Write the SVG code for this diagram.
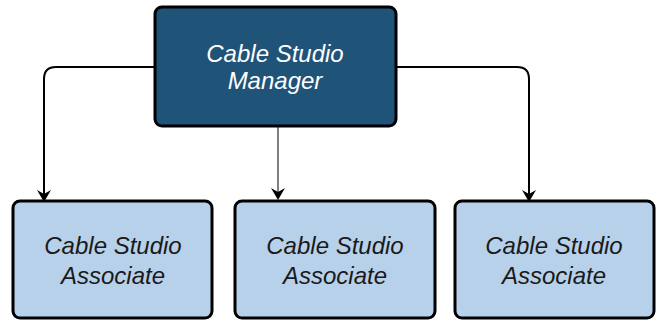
<svg xmlns="http://www.w3.org/2000/svg" width="658" height="320" viewBox="0 0 658 320">
<defs>
<style>
.mgr{fill:#1f5378;stroke:#000;stroke-width:3}
.asc{fill:#b8d1ea;stroke:#000;stroke-width:3}
.t{font-family:"Liberation Sans",Arial,sans-serif;font-size:24px;font-style:italic;text-anchor:middle}
.tw{fill:#fff}
.tk{fill:#1a1a1a}
.c{fill:none;stroke:#000;stroke-width:2}
.ah{fill:#000}
</style>
</defs>
<rect width="658" height="320" fill="#fff"/>
<g id="connectors">
<path class="c" d="M155,67 H56 Q44,67 44,79 V196"/>
<path class="c" d="M396,67 H517 Q529,67 529,79 V196"/>
<path d="M278,126 V194" fill="none" stroke="#000" stroke-width="1"/>
<path class="ah" d="M37,190 L44,194 L51,190 L44,202 Z"/>
<path class="ah" d="M522,190 L529,194 L536,190 L529,202 Z"/>
<path class="ah" d="M271,188 L278,192 L285,188 L278,200 Z"/>
</g>
<g id="manager">
<rect class="mgr" x="155" y="7" width="241" height="119" rx="7"/>
<text class="t tw" x="275" y="62">Cable Studio</text>
<text class="t tw" x="275" y="89">Manager</text>
</g>
<g id="associate1">
<rect class="asc" x="13" y="201" width="199" height="117" rx="7"/>
<text class="t tk" x="113" y="254">Cable Studio</text>
<text class="t tk" x="113" y="284">Associate</text>
</g>
<g id="associate2">
<rect class="asc" x="235" y="201" width="200" height="117" rx="7"/>
<text class="t tk" x="335" y="254">Cable Studio</text>
<text class="t tk" x="335" y="284">Associate</text>
</g>
<g id="associate3">
<rect class="asc" x="455" y="201" width="199" height="117" rx="7"/>
<text class="t tk" x="554" y="254">Cable Studio</text>
<text class="t tk" x="554" y="284">Associate</text>
</g>
</svg>
